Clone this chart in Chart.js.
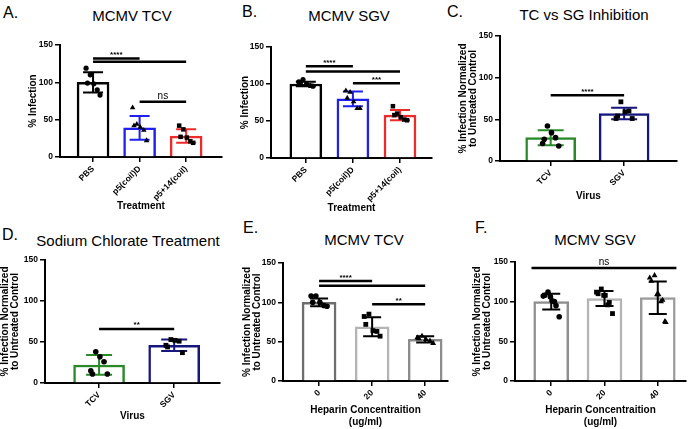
<!DOCTYPE html>
<html>
<head>
<meta charset="utf-8">
<script src="https://cdn.jsdelivr.net/npm/chart.js@4.4.1/dist/chart.umd.min.js"></script>
<style>
  body { margin: 0; width: 690px; height: 429px; overflow: hidden; position: relative; background: #fff;
         font-family: "Liberation Sans", Arial, sans-serif; color: #000; }
  canvas { position: absolute; }
  .ttl { position: absolute; transform: translate(-50%, -50%); white-space: nowrap; font-size: 15px; }
  .let { position: absolute; transform: translateY(-50%); font-size: 16px; }
</style>
</head>
<body>
<div class="let" style="left:3px;top:13px">A.</div>
<div class="let" style="left:242px;top:12px">B.</div>
<div class="let" style="left:447px;top:12px">C.</div>
<div class="let" style="left:2px;top:235px">D.</div>
<div class="let" style="left:243px;top:228px">E.</div>
<div class="let" style="left:475px;top:228px">F.</div>
<div class="ttl" style="left:132px;top:15px">MCMV TCV</div>
<div class="ttl" style="left:349px;top:15px">MCMV SGV</div>
<div class="ttl" style="left:584px;top:14px">TC vs SG Inhibition</div>
<div class="ttl" style="left:128px;top:240px">Sodium Chlorate Treatment</div>
<div class="ttl" style="left:364px;top:239px">MCMV TCV</div>
<div class="ttl" style="left:595px;top:239px">MCMV SGV</div>

<canvas id="cA"></canvas>
<canvas id="cB"></canvas>
<canvas id="cC"></canvas>
<canvas id="cD"></canvas>
<canvas id="cE"></canvas>
<canvas id="cF"></canvas>

<script>
// categories
const treatLabels = ['PBS', 'p5(coil)D', 'p5+14(coil)'];
const virusLabels = ['TCV', 'SGV'];
const heparinLabels = ['0', '20', '40'];

// A. MCMV TCV
const aMeans = [100, 39, 28];
const aSD = [13.5, 16, 9];
const aPoints = [[98, 119, 83, 110, 90, 99], [40, 66, 22, 44, 36, 42], [26, 42, 19, 37, 21, 27]];
const aSig = [{from: 0, to: 1, y: 132, text: '****'}, {from: 0, to: 2, y: 127.5, text: ''}, {from: 1, to: 2, y: 74, text: 'ns'}];

// B. MCMV SGV
const bMeans = [100, 80, 58];
const bSD = [3, 10, 7];
const bPoints = [[100, 103, 97, 106, 98, 101], [76, 91, 67, 89, 67, 81], [55, 70, 51, 60, 52, 58]];
const bSig = [{from: 0, to: 1, y: 124, text: '****'}, {from: 0, to: 2, y: 117, text: ''}, {from: 1, to: 2, y: 101, text: '***'}];

// C. TC vs SG inhibition
const cMeans = [28, 57];
const cSD = [9, 7];
const cPoints = [[34, 21, 18, 42, 28, 26], [59, 51, 51, 71, 60, 54]];
const cSig = [{from: 0, to: 1, y: 79, text: '****'}];

// D. sodium chlorate
const dMeans = [22, 46];
const dSD = [12, 7];
const dPoints = [[32, 15, 11, 38, 26, 11], [52, 46, 37, 53, 51, 44]];
const dSig = [{from: 0, to: 1, y: 66, text: '**'}];

// E. heparin, TCV
const eMeans = [100, 69, 53];
const eSD = [5, 12, 4];
const ePoints = [[100, 108, 95, 108, 96, 100], [64, 82, 57, 85, 63, 72], [53, 55, 48, 57, 51, 54]];
const eSig = [{from: 0, to: 1, y: 127, text: '****'}, {from: 0, to: 2, y: 121, text: ''}, {from: 1, to: 2, y: 97.6, text: '**'}];

// F. heparin, SGV
const fMeans = [100, 104, 105];
const fSD = [10, 9.5, 20.5];
const fPoints = [[101, 107, 81, 112, 95, 108, 100, 106], [108, 112, 85, 116, 99, 110, 96, 108], [109, 130, 74, 133, 102, 126, 100, 109, 75]];
const fSig = [{from: -0.37, to: 2.35, y: 142.4, text: 'ns'}];

const yTitle2 = ['% Infection Normalized', 'to Untreated Control'];
const jitterSeq = [0.05, -0.5, 0.5, -0.2, 0.3, -0.4, 0.2, -0.05, 0.45];

function panel(id, p) {
  const cv = document.getElementById(id);
  cv.width = p.box[2]; cv.height = p.box[3];
  cv.style.left = p.box[0] + 'px'; cv.style.top = p.box[1] + 'px';

  const marks = {
    id: 'marks',
    afterDatasetDraw(chart, args) {
      if (args.index !== 0) return;
      const {ctx, scales: {x, y}} = chart;
      ctx.save();
      ctx.lineWidth = 2;
      p.means.forEach((m, i) => {
        const px = x.getPixelForValue(i);
        const t = y.getPixelForValue(m + p.sd[i]), b = y.getPixelForValue(m - p.sd[i]);
        ctx.strokeStyle = p.errColors[i];
        ctx.beginPath();
        ctx.moveTo(px, t); ctx.lineTo(px, b);
        ctx.moveTo(px - p.cap, t); ctx.lineTo(px + p.cap, t);
        ctx.moveTo(px - p.cap, b); ctx.lineTo(px + p.cap, b);
        ctx.stroke();
      });
      ctx.restore();
    },
    afterDatasetsDraw(chart) {
      const {ctx, scales: {x, y}} = chart;
      ctx.save();
      ctx.strokeStyle = '#000';
      ctx.fillStyle = '#000';
      ctx.lineWidth = 2.5;
      ctx.textAlign = 'center';
      ctx.textBaseline = 'alphabetic';
      p.sig.forEach(s => {
        const x1 = x.getPixelForValue(s.from), x2 = x.getPixelForValue(s.to);
        const py = y.getPixelForValue(s.y);
        ctx.beginPath(); ctx.moveTo(x1, py); ctx.lineTo(x2, py); ctx.stroke();
        if (s.text) {
          ctx.font = s.text === 'ns' ? '10px "Liberation Sans", Arial' : 'bold 8px "Liberation Sans", Arial';
          ctx.fillText(s.text, (x1 + x2) / 2, py - (s.text === 'ns' ? 3 : 1.5));
        }
      });
      ctx.restore();
    }
  };

  const datasets = [{
    data: p.means.map((m, i) => ({x: i, y: m})),
    backgroundColor: '#fff',
    borderColor: p.colors,
    borderWidth: 2.5,
    barThickness: p.barW,
    order: 2
  }];
  p.points.forEach((pts, i) => {
    datasets.push({
      type: 'scatter',
      data: pts.map((v, k) => ({x: i + jitterSeq[k % jitterSeq.length] * p.spread, y: v})),
      pointStyle: p.markers[i],
      pointRadius: p.markers[i] === 'circle' ? p.r : p.r + 0.6,
      backgroundColor: '#000',
      borderWidth: 0,
      order: 1
    });
  });

  const axisFont = {size: 10, weight: 'bold', family: '"Liberation Sans", Arial', lineHeight: 1.0};
  const tickFont = {size: 8.5, weight: 'bold', family: '"Liberation Sans", Arial'};

  new Chart(cv, {
    type: 'bar',
    data: {datasets},
    options: {
      responsive: false,
      animation: false,
      layout: {padding: p.pad},
      plugins: {legend: {display: false}, tooltip: {enabled: false}},
      scales: {
        x: {
          type: 'linear', min: p.xmin, max: p.xmax, offset: false,
          afterBuildTicks: s => { s.ticks = p.labels.map((_, i) => ({value: i})); },
          afterFit: s => { s.height = p.xh; },
          ticks: {callback: v => p.labels[v], minRotation: 45, maxRotation: 45, font: tickFont, color: '#000', padding: 2},
          grid: {drawOnChartArea: false, offset: false, tickLength: 5, color: '#000', lineWidth: 1.5},
          border: {color: '#000', width: 2},
          title: {display: true, text: p.xTitle, color: '#000', padding: 0,
                  font: Object.assign({}, axisFont, {lineHeight: p.xLH || 1.2})}
        },
        y: {
          min: 0, max: 150,
          afterFit: s => { s.width = p.yw; },
          ticks: {stepSize: 50, font: tickFont, color: '#000', padding: 2},
          grid: {drawOnChartArea: false, tickLength: 5, color: '#000', lineWidth: 1.5},
          border: {color: '#000', width: 2},
          title: {display: true, text: p.yTitle, color: '#000', padding: 0, font: axisFont}
        }
      }
    },
    plugins: [marks]
  });
}

const markers3 = ['circle', 'triangle', 'rect'];

panel('cA', {
  box: [0, 0, 230, 215], pad: {left: 28, right: 8, top: 45, bottom: 3}, yw: 32, xh: 55,
  xmin: -0.71, xmax: 2.77, labels: treatLabels, means: aMeans, sd: aSD, points: aPoints, sig: aSig,
  colors: ['#000000', '#1f1fee', '#ee2b2b'], errColors: ['#000000', '#1f1fee', '#ee2b2b'],
  barW: 32, cap: 10, markers: markers3, r: 2.6, spread: 0.3,
  xTitle: 'Treatment', yTitle: '% Infection'
});
panel('cB', {
  box: [230, 0, 230, 215], pad: {left: 10, right: 28, top: 47, bottom: 1}, yw: 31, xh: 56,
  xmin: -0.74, xmax: 2.68, labels: treatLabels, means: bMeans, sd: bSD, points: bPoints, sig: bSig,
  colors: ['#000000', '#1f1fee', '#ee2b2b'], errColors: ['#000000', '#1f1fee', '#ee2b2b'],
  barW: 32, cap: 10, markers: markers3, r: 2.6, spread: 0.3,
  xTitle: 'Treatment', yTitle: '% Infection'
});
panel('cC', {
  box: [445, 0, 245, 215], pad: {left: 13, right: 13, top: 36, bottom: 13}, yw: 42, xh: 41,
  xmin: -0.69, xmax: 1.72, labels: virusLabels, means: cMeans, sd: cSD, points: cPoints, sig: cSig,
  colors: ['#2a8a2a', '#16167e'], errColors: ['#2a8a2a', '#16167e'],
  barW: 50, cap: 13, markers: ['circle', 'rect'], r: 2.8, spread: 0.22,
  xTitle: 'Virus', yTitle: yTitle2
});
panel('cD', {
  box: [0, 215, 230, 214], pad: {left: 0, right: 10, top: 45, bottom: 7}, yw: 45, xh: 39,
  xmin: -0.72, xmax: 1.61, labels: virusLabels, means: dMeans, sd: dSD, points: dPoints, sig: dSig,
  colors: ['#2a8a2a', '#16167e'], errColors: ['#2a8a2a', '#16167e'],
  barW: 51, cap: 13, markers: ['circle', 'rect'], r: 2.8, spread: 0.22,
  xTitle: 'Virus', yTitle: yTitle2
});
panel('cE', {
  box: [230, 215, 230, 218], pad: {left: 12, right: 12, top: 48, bottom: 5}, yw: 41, xh: 47,
  xmin: -0.68, xmax: 2.43, labels: heparinLabels, means: eMeans, sd: eSD, points: ePoints, sig: eSig,
  colors: ['#6e6e6e', '#b4b4b4', '#8c8c8c'], errColors: ['#000', '#000', '#000'],
  barW: 34, cap: 9, markers: ['circle', 'rect', 'triangle'], r: 2.8, spread: 0.3,
  xTitle: ['Heparin Concentraition', '(ug/ml)'], xLH: 1.2, yTitle: yTitle2
});
panel('cF', {
  box: [460, 215, 230, 218], pad: {left: 12, right: 0, top: 47, bottom: 5}, yw: 43, xh: 47,
  xmin: -0.68, xmax: 2.53, labels: heparinLabels, means: fMeans, sd: fSD, points: fPoints, sig: fSig,
  colors: ['#8e8e8e', '#b4b4b4', '#9c9c9c'], errColors: ['#000', '#000', '#000'],
  barW: 35, cap: 9, markers: ['circle', 'rect', 'triangle'], r: 2.8, spread: 0.3,
  xTitle: ['Heparin Concentraition', '(ug/ml)'], xLH: 1.2, yTitle: yTitle2
});
</script>
</body>
</html>
